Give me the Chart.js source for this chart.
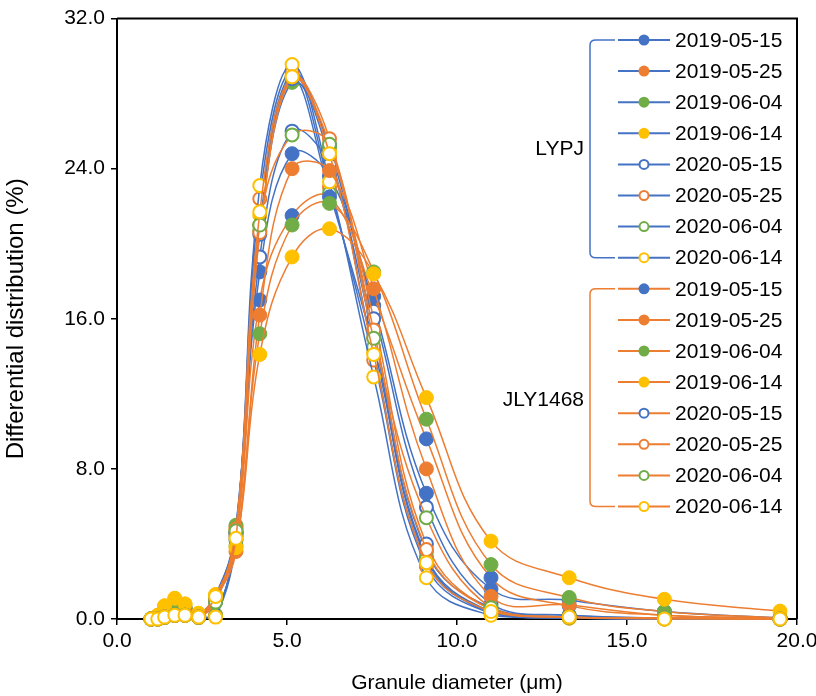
<!DOCTYPE html>
<html>
<head>
<meta charset="utf-8">
<script src="https://cdn.jsdelivr.net/npm/chart.js@4.4.0/dist/chart.umd.min.js"></script>
<style>body{margin:0;background:#fff}</style>
</head>
<body>
<canvas id="myChart" width="816" height="696"></canvas>
<script>
    // 粒径 (μm)
    let diameters = [1.0, 1.2, 1.4, 1.7, 2.0, 2.4, 2.9, 3.5, 4.2, 5.15, 6.25, 7.55, 9.1, 11.0, 13.3, 16.1, 19.5];
    let dates = ['2019-05-15', '2019-05-25', '2019-06-04', '2019-06-14', '2020-05-15', '2020-05-25', '2020-06-04', '2020-06-14'];
    let groups = ['LYPJ', 'JLY1468'];

    // LYPJ
    let lypj_190515 = [0, 0.1, 0.4, 0.7, 0.5, 0.2, 0.9, 4.6, 18.5, 24.8, 23.6, 16.7, 6.7, 1.6, 1.0, 0.4, 0.05];
    let lypj_190525 = [0, 0.1, 0.4, 0.6, 0.5, 0.2, 1.0, 4.9, 21.0, 28.9, 24.6, 15.0, 3.3, 0.4, 0.1, 0.05, 0];
    let lypj_190604 = [0, 0.1, 0.5, 0.7, 0.5, 0.2, 1.1, 5.0, 20.7, 28.6, 25.1, 15.4, 3.6, 0.6, 0.2, 0.05, 0];
    let lypj_190614 = [0, 0.2, 0.7, 1.1, 0.8, 0.3, 1.3, 4.7, 21.5, 29.1, 24.9, 14.2, 3.0, 0.4, 0.1, 0, 0];
    let lypj_200515 = [0, 0, 0.1, 0.2, 0.3, 0.1, 0.2, 4.4, 19.3, 26.0, 24.2, 16.4, 5.96, 0.8, 0.2, 0.05, 0];
    let lypj_200525 = [0, 0, 0.1, 0.2, 0.2, 0.1, 0.2, 4.5, 22.4, 29.2, 23.0, 13.8, 2.8, 0.3, 0.05, 0, 0];
    let lypj_200604 = [0, 0, 0.1, 0.2, 0.2, 0.1, 0.2, 4.6, 21.0, 28.8, 22.7, 14.5, 3.2, 0.3, 0.05, 0, 0];
    let lypj_200614 = [0, 0, 0.1, 0.2, 0.2, 0.1, 0.1, 4.3, 23.1, 29.55, 23.3, 12.9, 2.2, 0.2, 0.05, 0, 0];

    // JLY1468
    let jly_190515 = [0, 0.1, 0.4, 0.7, 0.6, 0.2, 1.0, 4.2, 17.0, 21.5, 22.5, 17.2, 9.6, 2.2, 0.7, 0.2, 0.05];
    let jly_190525 = [0, 0.1, 0.5, 0.8, 0.6, 0.2, 1.1, 3.6, 16.2, 24.0, 23.9, 17.6, 8.0, 1.2, 0.75, 0.2, 0.05];
    let jly_190604 = [0, 0.1, 0.5, 0.8, 0.6, 0.2, 1.2, 3.9, 15.2, 21.0, 22.15, 18.5, 10.65, 2.9, 1.15, 0.4, 0.05];
    let jly_190614 = [0, 0.2, 0.7, 1.1, 0.8, 0.3, 1.3, 3.8, 14.1, 19.3, 20.8, 18.4, 11.8, 4.15, 2.2, 1.05, 0.42];
    let jly_200515 = [0, 0, 0.1, 0.2, 0.2, 0.1, 1.0, 4.6, 20.5, 28.8, 25.3, 16.0, 4.0, 0.5, 0.1, 0.05, 0];
    let jly_200525 = [0, 0, 0.1, 0.2, 0.2, 0.1, 1.0, 4.8, 20.6, 28.9, 25.6, 15.4, 3.7, 0.5, 0.1, 0.05, 0];
    let jly_200604 = [0, 0, 0.1, 0.2, 0.2, 0.1, 0.9, 4.7, 21.0, 25.8, 25.3, 14.96, 5.4, 0.6, 0.1, 0.05, 0];
    let jly_200614 = [0, 0, 0.1, 0.2, 0.2, 0.1, 1.2, 4.3, 21.7, 28.9, 24.8, 14.1, 3.0, 0.4, 0.1, 0, 0];

    let lypjSeries = [lypj_190515, lypj_190525, lypj_190604, lypj_190614, lypj_200515, lypj_200525, lypj_200604, lypj_200614];
    let jlySeries = [jly_190515, jly_190525, jly_190604, jly_190614, jly_200515, jly_200525, jly_200604, jly_200614];

    let yTicks = [0, 8, 16, 24, 32];

    // 色
    const markerColors = ['#4472C4', '#ED7D31', '#70AD47', '#FFC000'];
    const lineColors = ['#4472C4', '#ED7D31'];
    const FONT = "'Liberation Sans', Arial, sans-serif";

    function makeSet(g, k, values) {
        let mc = markerColors[k % 4];
        let hollow = k >= 4;
        return {
            label: groups[g] + ' ' + dates[k],
            data: diameters.map((x, i) => ({x: x, y: values[i]})),
            showLine: true,
            tension: 0.4,
            borderColor: lineColors[g],
            borderWidth: 1.5,
            pointRadius: hollow ? 6.5 : 7,
            pointHoverRadius: 7,
            pointBorderWidth: hollow ? 2 : 1,
            pointBorderColor: mc,
            pointBackgroundColor: hollow ? '#fff' : mc,
            order: 100 - (g * 8 + k),
            clip: false
        };
    }

    let datasets = [];
    lypjSeries.forEach((s, k) => datasets.push(makeSet(0, k, s)));
    jlySeries.forEach((s, k) => datasets.push(makeSet(1, k, s)));

    // 枠と凡例（括弧付き）
    const frameLegend = {
        id: 'frameLegend',
        afterDraw(chart) {
            const c = chart.ctx, a = chart.chartArea;
            c.save();
            c.strokeStyle = '#000';
            c.lineWidth = 2;
            c.beginPath();
            c.moveTo(a.left, a.top);
            c.lineTo(a.right, a.top);
            c.lineTo(a.right, a.bottom);
            c.stroke();

            const rowY = i => 40 + i * 31.1;
            c.font = '21px ' + FONT;
            c.textBaseline = 'middle';
            for (let g = 0; g < 2; g++) {
                for (let k = 0; k < 8; k++) {
                    let y = rowY(g * 8 + k);
                    c.strokeStyle = lineColors[g];
                    c.lineWidth = 2;
                    c.beginPath();
                    c.moveTo(618, y);
                    c.lineTo(670, y);
                    c.stroke();
                    let mc = markerColors[k % 4];
                    c.beginPath();
                    c.arc(644, y, k >= 4 ? 4.5 : 5.5, 0, Math.PI * 2);
                    c.fillStyle = k >= 4 ? '#fff' : mc;
                    c.fill();
                    if (k >= 4) {
                        c.strokeStyle = mc;
                        c.lineWidth = 2;
                        c.stroke();
                    }
                    c.fillStyle = '#000';
                    c.textAlign = 'left';
                    c.fillText(dates[k], 675, y + 1);
                }
                // 括弧
                let top = rowY(g * 8), bottom = rowY(g * 8 + 7);
                c.strokeStyle = lineColors[g];
                c.lineWidth = 1.5;
                c.beginPath();
                c.moveTo(615, top);
                c.lineTo(596, top);
                c.quadraticCurveTo(590, top, 590, top + 5);
                c.lineTo(590, bottom - 5);
                c.quadraticCurveTo(590, bottom, 596, bottom);
                c.lineTo(615, bottom);
                c.stroke();
                c.fillStyle = '#000';
                c.textAlign = 'right';
                c.fillText(groups[g], 584, (top + bottom) / 2 + (g ? 3 : 0));
            }
            c.restore();
        }
    };

    let ctx = document.getElementById('myChart');
    let myChart = new Chart(ctx, {
        type: 'scatter',
        data: {datasets: datasets},
        plugins: [frameLegend],
        options: {
            responsive: false,
            animation: false,
            layout: {padding: {top: 18, right: 19, left: 0, bottom: 0}},
            plugins: {legend: {display: false}, tooltip: {enabled: false}},
            scales: {
                x: {
                    type: 'linear', min: 0, max: 20,
                    ticks: {stepSize: 5, callback: v => v.toFixed(1), color: '#000', font: {size: 21, family: FONT}, padding: 4},
                    grid: {drawOnChartArea: false, color: '#000', tickLength: 6, lineWidth: 1.5},
                    border: {color: '#000', width: 2},
                    title: {display: true, text: 'Granule diameter (μm)', color: '#000', font: {size: 21, family: FONT}, padding: {top: 0, bottom: 0}},
                    afterFit(s) { s.height = 77; s.paddingRight = 0; s.paddingLeft = 0; }
                },
                y: {
                    min: 0, max: 32,
                    afterBuildTicks(s) { s.ticks = yTicks.map(v => ({value: v})); },
                    ticks: {callback: v => v.toFixed(1), color: '#000', font: {size: 21, family: FONT}, padding: 6},
                    grid: {drawOnChartArea: false, color: '#000', tickLength: 6, lineWidth: 1.5},
                    border: {color: '#000', width: 2},
                    title: {display: true, text: 'Differential distribution (%)', color: '#000', font: {size: 24, family: FONT}, padding: {top: 2, bottom: 0}},
                    afterFit(s) { s.width = 117; }
                }
            }
        }
    });
</script>
</body>
</html>
